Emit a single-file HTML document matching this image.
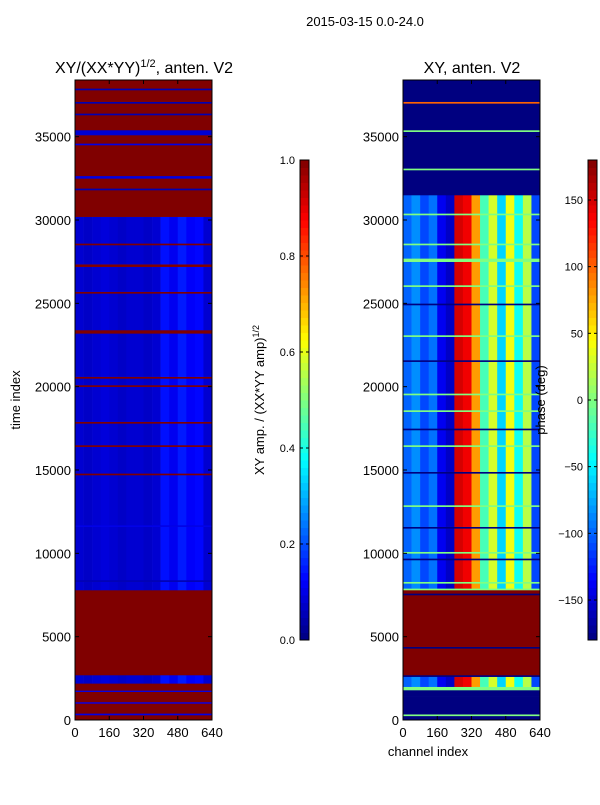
<!DOCTYPE html>
<html><head><meta charset="utf-8"><style>
body{margin:0;background:#fff;}
svg text{font-family:"Liberation Sans","DejaVu Sans",sans-serif;fill:#000;}
</style></head><body>
<svg id="fig" width="600" height="800" xmlns="http://www.w3.org/2000/svg">
<rect width="600" height="800" fill="#fff"/>
<text x="365" y="26" font-size="13" text-anchor="middle">2015-03-15 0.0-24.0</text>
<text x="144" y="73" font-size="16" text-anchor="middle">XY/(XX*YY)<tspan font-size="11" dy="-6">1/2</tspan><tspan dy="6">, anten. V2</tspan></text>
<text x="472" y="73" font-size="16" text-anchor="middle">XY, anten. V2</text>
<g id="left"></g>
<g id="right"></g>
<g id="axes"></g>
<text transform="translate(20,400) rotate(-90)" font-size="13" text-anchor="middle">time index</text>
<text x="428" y="756" font-size="13" text-anchor="middle">channel index</text>
<text transform="translate(264,400) rotate(-90)" font-size="13" text-anchor="middle">XY amp. / (XX*YY amp)<tspan font-size="9" dy="-5">1/2</tspan></text>
<text transform="translate(545,400) rotate(-90)" font-size="13" text-anchor="middle">phase (deg)</text>
</svg>
<script>
const yTicks=[0,5000,10000,15000,20000,25000,30000,35000];
const xTicks=[0,160,320,480,640];
const ampTicks=[0.0,0.2,0.4,0.6,0.8,1.0];
const phaseTicks=[-150,-100,-50,0,50,100,150];
const chanBins=[0,40,80,120,160,200,240,280,320,360,400,440,480,520,560,600];
const ampProfile=[0.08,0.07,0.08,0.09,0.08,0.07,0.08,0.08,0.07,0.08,0.14,0.11,0.15,0.12,0.13,0.08];
const phaseProfile=[-100,-85,-110,-95,-140,-155,150,140,80,-20,30,-60,40,-40,20,-110];
// [startRow, endRow, value] ; value null = use data profile
const ampBands=[[0,300,1],[300,400,0.1],[400,1000,1],[1000,1080,0.12],[1080,1700,1],[1700,1780,0.1],[1780,2200,1],[2200,2700,null],[2700,7800,1],[7800,8300,null],[8300,8400,0.05],[8400,11600,null],[11600,11700,0.1],[11700,14700,null],[14700,14800,1],[14800,16400,null],[16400,16500,1],[16500,17800,null],[17800,17900,1],[17900,20000,null],[20000,20100,1],[20100,20500,null],[20500,20600,1],[20600,23200,null],[23200,23400,1],[23400,25600,null],[25600,25700,1],[25700,27200,null],[27200,27350,1],[27350,28500,null],[28500,28600,1],[28600,30200,null],[30200,31800,1],[31800,31900,0.05],[31900,32500,1],[32500,32650,0.1],[32650,34500,1],[34500,34600,0.1],[34600,35100,1],[35100,35400,0.08],[35400,36300,1],[36300,36400,0.05],[36400,37000,1],[37000,37100,0.05],[37100,37800,1],[37800,37900,0.05],[37900,38400,1]];
const phaseBands=[[0,250,-180],[250,350,0],[350,1300,-180],[1300,1400,-180],[1400,1800,-180],[1800,2000,0],[2000,2600,null],[2600,2700,-180],[2700,4300,180],[4300,4400,-180],[4400,7500,180],[7500,7600,-180],[7600,7800,180],[7800,7900,0],[7900,8200,null],[8200,8300,0],[8300,9600,null],[9600,9700,-180],[9700,10000,null],[10000,10100,0],[10100,11500,null],[11500,11600,-180],[11600,12800,null],[12800,12900,0],[12900,14800,null],[14800,14900,-180],[14900,16400,null],[16400,16500,0],[16500,17400,null],[17400,17500,-180],[17500,18500,null],[18500,18600,0],[18600,19500,null],[19500,19600,0],[19600,21500,null],[21500,21600,-180],[21600,23000,null],[23000,23100,0],[23100,24900,null],[24900,25000,-180],[25000,26000,null],[26000,26100,0],[26100,27500,null],[27500,27700,0],[27700,28500,null],[28500,28600,0],[28600,30300,null],[30300,30400,0],[30400,31500,null],[31500,33000,-180],[33000,33100,0],[33100,35300,-180],[35300,35400,0],[35400,37000,-180],[37000,37100,100],[37100,38400,-180]];
const X0=[75,403],PW=137,Y0=720,PH=640,TMAX=38400,CMAX=640;
function ys(t){return Y0-t/TMAX*PH;}
function xs(p,c){return X0[p]+c/CMAX*PW;}
function jet(v){v=Math.max(0,Math.min(1,v));
 const r=Math.max(0,Math.min(1,Math.min(4*v-1.5,-4*v+4.5)));
 const g=Math.max(0,Math.min(1,Math.min(4*v-0.5,-4*v+3.5)));
 const b=Math.max(0,Math.min(1,Math.min(4*v+0.5,-4*v+2.5)));
 return `rgb(${Math.round(r*255)},${Math.round(g*255)},${Math.round(b*255)})`;}
const NS="http://www.w3.org/2000/svg";
function mk(tag,attrs,parent){const e=document.createElementNS(NS,tag);for(const k in attrs)e.setAttribute(k,attrs[k]);parent.appendChild(e);return e;}
function draw(p,bands,profile,norm,gid){
 const g=document.getElementById(gid);
 bands.forEach(b=>{
  const y1=ys(b[1]),h=ys(b[0])-ys(b[1]);
  if(b[2]!==null){const r=mk('rect',{x:X0[p],y:y1,width:PW,height:h+0.3,fill:jet(norm(b[2]))},g);
   
   }
  else chanBins.forEach((c,i)=>{const r=mk('rect',{x:xs(p,c),y:y1,width:PW/16+0.3,height:h+0.3,fill:jet(norm(profile[i]))},g);
   
   });
 });
}
draw(0,ampBands,ampProfile,v=>v,'left');
draw(1,phaseBands,phaseProfile,v=>(v+180)/360,'right');
const ax=document.getElementById('axes');
[0,1].forEach(p=>{
 const f=mk('rect',{x:X0[p],y:Y0-PH,width:PW,height:PH,fill:'none',stroke:'#000','stroke-width':1},ax);
 
 
 yTicks.forEach(t=>{const y=ys(t);
  mk('line',{x1:X0[p],x2:X0[p]+4,y1:y,y2:y,stroke:'#000'},ax);
  mk('line',{x1:X0[p]+PW,x2:X0[p]+PW-4,y1:y,y2:y,stroke:'#000'},ax);
  const tx=mk('text',{x:X0[p]-4,y:y+5,'font-size':13,'text-anchor':'end'},ax);tx.textContent=t;
  
  });
 xTicks.forEach(c=>{const x=xs(p,c);
  mk('line',{x1:x,x2:x,y1:Y0,y2:Y0-4,stroke:'#000'},ax);
  mk('line',{x1:x,x2:x,y1:Y0-PH,y2:Y0-PH+4,stroke:'#000'},ax);
  const tx=mk('text',{x:x,y:Y0+17,'font-size':13,'text-anchor':'middle'},ax);tx.textContent=c;
  
  });
});
function cbar(x,ticks,lo,hi,name){
 const g=mk('g',{},ax);
 
 
 const N=64;for(let i=0;i<N;i++){mk('rect',{x:x,y:640-(i+1)*480/N,width:9,height:480/N+0.5,fill:jet((i+0.5)/N)},g);}
 mk('rect',{x:x,y:160,width:9,height:480,fill:'none',stroke:'#000'},g);
 ticks.forEach(t=>{const y=640-(t-lo)/(hi-lo)*480;
  mk('line',{x1:x,x2:x+3,y1:y,y2:y,stroke:'#000'},g);mk('line',{x1:x+9,x2:x+6,y1:y,y2:y,stroke:'#000'},g);
  const tx=mk('text',{x:x-5,y:y+4,'font-size':11,'text-anchor':'end'},g);tx.textContent=(t<0?'\u2212'+(-t):(lo===0?t.toFixed(1):t));
  
  });
}
cbar(300,ampTicks,0,1,'amplitude-colorbar');
cbar(588,phaseTicks,-180,180,'phase-colorbar');
</script>
</body></html>
